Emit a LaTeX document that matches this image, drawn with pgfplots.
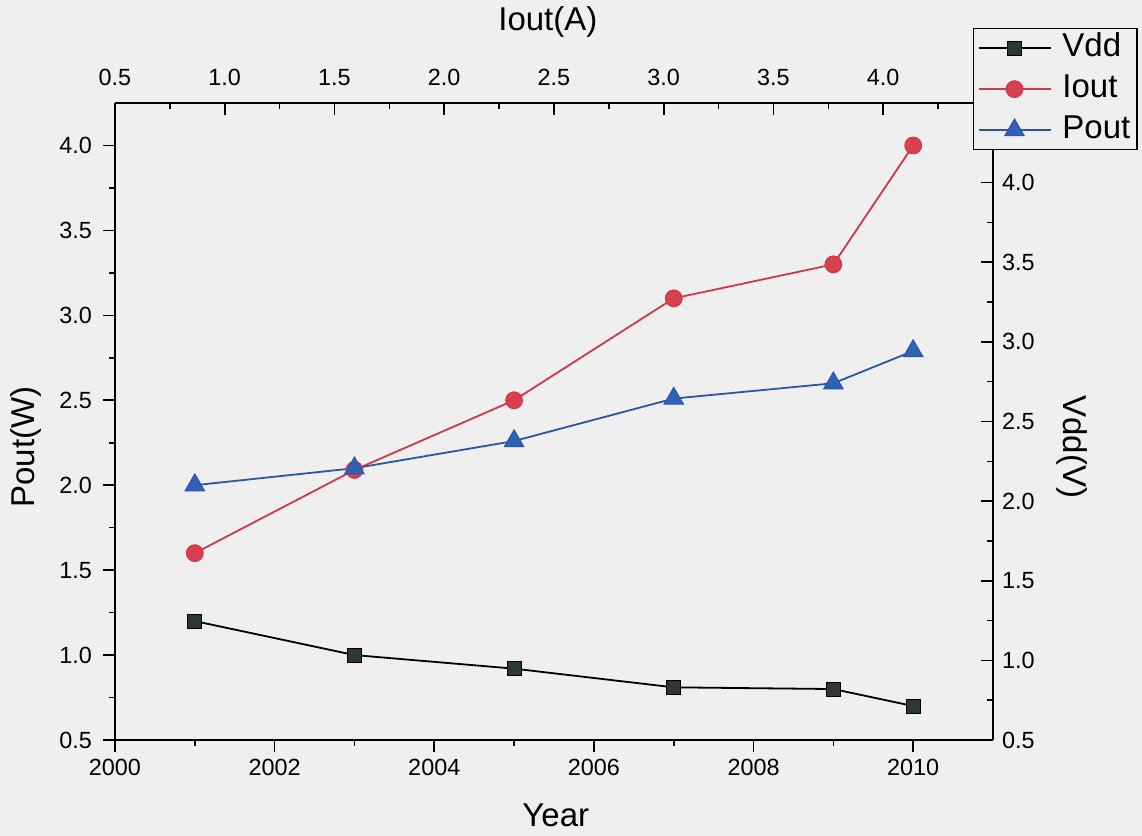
\documentclass[border=0pt]{standalone}
\usepackage{fontspec}
\setmainfont{Liberation Sans}
\usepackage{pgfplots}
\pgfplotsset{compat=1.18}
\definecolor{bg}{HTML}{EFEFEF}
\definecolor{vddfill}{HTML}{2C3833}
\definecolor{ioutline}{HTML}{D0384A}
\definecolor{ioutfill}{HTML}{D8404F}
\definecolor{poutline}{HTML}{2A55A8}
\definecolor{poutfill}{HTML}{2F62B5}
\pgfplotsset{
  myax/.style={
    scale only axis, width=439pt, height=318.5pt,
    at={(0pt,0pt)}, anchor=south west,
    axis line style={line width=0.9pt, black},
    major tick length=6pt, minor tick length=3pt,
    every tick/.style={line width=0.8pt, black},
    tick label style={font=\fontsize{11.7}{14}\selectfont},
    label style={font=\fontsize{16.5}{19}\selectfont},
    /pgf/number format/assume math mode=true,
  },
  onedec/.style={/pgf/number format/fixed, /pgf/number format/fixed zerofill, /pgf/number format/precision=1},
}
\begin{document}
\begin{tikzpicture}
\path[use as bounding box, fill=bg] (-57.5pt,-48pt) rectangle (513.5pt,370pt);

% right axis (Vdd)
\begin{axis}[myax,
  xmin=2000, xmax=2011, ymin=0.5, ymax=4.5,
  axis x line=none, axis y line*=right, tick align=inside,
  ytick={0.5,1.0,1.5,2.0,2.5,3.0,3.5,4.0},
  minor ytick={0.75,1.25,1.75,2.25,2.75,3.25,3.75},
  yticklabel style={onedec, xshift=1pt},
  ylabel={Vdd(V)},
  ylabel style={at={(axis description cs:1.09,0.46)}, anchor=center, rotate=180},
]
\end{axis}

% top axis (Iout)
\begin{axis}[myax,
  xmin=0.5, xmax=4.5, ymin=0, ymax=1,
  axis y line=none, axis x line*=top, tick align=inside,
  xtick={0.5,1.0,1.5,2.0,2.5,3.0,3.5,4.0},
  minor xtick={0.75,1.25,1.75,2.25,2.75,3.25,3.75,4.25},
  xticklabel style={onedec, yshift=5pt},
  xlabel={Iout(A)},
  xlabel style={at={(axis description cs:0.493,1.127)}, anchor=center},
]
\end{axis}

% main axis
\begin{axis}[myax,
  xmin=2000, xmax=2011, ymin=0.5, ymax=4.25,
  axis x line*=bottom, axis y line*=left, tick align=outside,
  xtick={2000,2002,2004,2006,2008,2010},
  minor xtick={2001,2003,2005,2007,2009},
  xticklabel style={/pgf/number format/1000 sep={}},
  ytick={0.5,1.0,1.5,2.0,2.5,3.0,3.5,4.0},
  minor ytick={0.75,1.25,1.75,2.25,2.75,3.25,3.75},
  yticklabel style={onedec, xshift=-2pt},
  xlabel={Year},
  xlabel style={at={(axis description cs:0.502,-0.118)}, anchor=center},
  ylabel={Pout(W)},
  ylabel style={at={(axis description cs:-0.101,0.46)}, anchor=center},
  legend style={at={(axis description cs:0.977,1.118)}, anchor=north west,
    draw=black, line width=0.8pt, fill=bg,
    font=\fontsize{16.5}{19}\selectfont,
    inner xsep=2pt, inner ysep=0.5pt, row sep=2pt, column sep=4pt,
    nodes={inner sep=1.5pt, text height=12pt, text depth=3.5pt}},
  legend cell align=left,
  legend image code/.code={\draw[mark repeat=2,mark phase=2] plot coordinates {(0pt,0pt)(18pt,0pt)(36pt,0pt)};},
]
\addplot[black, line width=0.9pt, mark=square*, mark size=3.5pt,
  mark options={fill=vddfill, draw=black, line width=0.5pt}]
  coordinates {(2001,1.2)(2003,1.0)(2005,0.92)(2007,0.81)(2009,0.80)(2010,0.70)};
\addlegendentry{Vdd}
\addplot[ioutline, line width=0.9pt, mark=*, mark size=4.2pt,
  mark options={fill=ioutfill, draw=ioutline, line width=0.5pt}]
  coordinates {(2001,1.6)(2003,2.09)(2005,2.5)(2007,3.1)(2009,3.3)(2010,4.0)};
\addlegendentry{Iout}
\addplot[poutline, line width=0.9pt, mark=triangle*, mark size=5.6pt,
  mark options={fill=poutfill, draw=poutline, line width=0.5pt}]
  coordinates {(2001,2.0)(2003,2.1)(2005,2.26)(2007,2.51)(2009,2.6)(2010,2.79)};
\addlegendentry{Pout}
\end{axis}
\end{tikzpicture}
\end{document}
